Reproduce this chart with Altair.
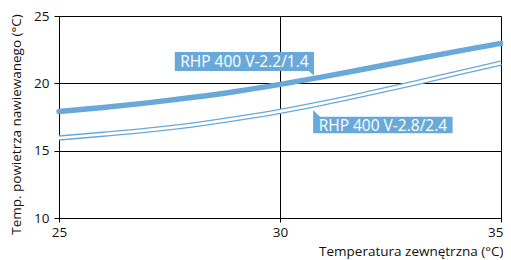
import altair as alt
import pandas as pd

# Data
x_vals = [25, 26, 27, 28, 29, 30, 31, 32, 33, 34, 35]
series_a = [17.9, 18.2, 18.55, 18.95, 19.4, 19.92, 20.5, 21.12, 21.75, 22.37, 22.97]
series_b = [15.94, 16.22, 16.52, 16.9, 17.38, 17.92, 18.55, 19.25, 19.98, 20.75, 21.5]
labels = ["RHP 400 V-2.2/1.4", "RHP 400 V-2.8/2.4"]
# label box extents (data units)
box_x1 = [27.62, 30.75]
box_x2 = [30.77, 33.905]
box_y1 = [22.33, 17.52]
box_y2 = [20.92, 16.29]
tail_x = [30.69, 30.83]
tail_y = [20.77, 17.76]
tail_shape = ["M-1,-1 L1,-1 L1,0.8 Z", "M-1,-1 L-1,1 L1,1 Z"]

BLUE = "#69a9d9"
FONT = "Open Sans"

df_a = pd.DataFrame({"x": x_vals, "y": series_a})
df_b = pd.DataFrame({"x": x_vals, "y": series_b})
df_lab = pd.DataFrame({
    "label": labels, "x1": box_x1, "x2": box_x2, "y1": box_y1, "y2": box_y2,
    "xc": [(a + b) / 2 for a, b in zip(box_x1, box_x2)],
    "yc": [(a + b) / 2 for a, b in zip(box_y1, box_y2)],
})

xs = alt.Scale(domain=[25, 35], nice=False, zero=False)
ys = alt.Scale(domain=[10, 25], nice=False, zero=False)

x_axis = alt.Axis(values=[25, 30, 35], title="Temperatura zewnętrzna (°C)",
                  grid=True, gridColor="black", gridOpacity=1, gridWidth=1,
                  domainColor="black", tickColor="black", tickSize=4, labelFlush=False,
                  labelAlign=alt.ExprRef("datum.value >= 35 ? 'right' : 'center'"),
                  labelOffset=alt.ExprRef("datum.value >= 35 ? 2 : 0"),
                  labelPadding=3, labelFontSize=13.5, labelColor="#111", labelFont=FONT,
                  titleFont=FONT, titleFontSize=13.5, titleFontWeight="normal",
                  titleColor="#111", titleAnchor="start", titleAlign="right",
                  titleX=444, titleY=37, titleBaseline="alphabetic")
y_axis = alt.Axis(values=[10, 15, 20, 25], title="Temp. powietrza nawiewanego (°C)",
                  grid=True, gridColor="black", gridOpacity=1, gridWidth=1,
                  domainColor="black", tickColor="black", tickSize=5, labelFlush=False,
                  labelPadding=5, labelFontSize=13.5, labelColor="#111", labelFont=FONT,
                  titleFont=FONT, titleFontSize=13.5, titleFontWeight="normal",
                  titleColor="#111", titleAngle=-90, titleAlign="center",
                  titleBaseline="middle", titleX=-43, titleY=108)

line_a = alt.Chart(df_a).mark_line(color=BLUE, strokeWidth=5.5, strokeCap="round",
                                   interpolate="monotone").encode(
    x=alt.X("x:Q", scale=xs, axis=x_axis), y=alt.Y("y:Q", scale=ys, axis=y_axis))
line_b_outer = alt.Chart(df_b).mark_line(color=BLUE, strokeWidth=5.3,
                                         interpolate="monotone").encode(
    x=alt.X("x:Q", scale=xs), y=alt.Y("y:Q", scale=ys))
line_b_inner = alt.Chart(df_b).mark_line(color="white", strokeWidth=2.7,
                                         interpolate="monotone").encode(
    x=alt.X("x:Q", scale=xs), y=alt.Y("y:Q", scale=ys))

boxes = alt.Chart(df_lab).mark_rect(color=BLUE).encode(
    x=alt.X("x1:Q", scale=xs), x2="x2:Q", y=alt.Y("y1:Q", scale=ys), y2="y2:Q")
texts = alt.Chart(df_lab).mark_text(color="white", font=FONT, fontSize=15.5,
                                    align="center", baseline="middle", dy=0.5).encode(
    x=alt.X("xc:Q", scale=xs), y=alt.Y("yc:Q", scale=ys), text="label:N")

tails = []
for tx, ty, shp in zip(tail_x, tail_y, tail_shape):
    tails.append(alt.Chart(pd.DataFrame({"x": [tx], "y": [ty]})).mark_point(
        shape=shp, filled=True, color=BLUE, opacity=1, size=49, strokeWidth=0).encode(
        x=alt.X("x:Q", scale=xs), y=alt.Y("y:Q", scale=ys)))

chart = alt.layer(line_a, line_b_outer, line_b_inner, boxes, texts, *tails).properties(
    width=442, height=202,
    autosize=alt.AutoSizeParams(type="none"),
    padding={"left": 51, "top": 8, "right": 2, "bottom": 44},
).configure_view(stroke="black", strokeWidth=1).configure(background="white")

chart.save("out.html", embed_options={"renderer": "svg", "actions": False})
